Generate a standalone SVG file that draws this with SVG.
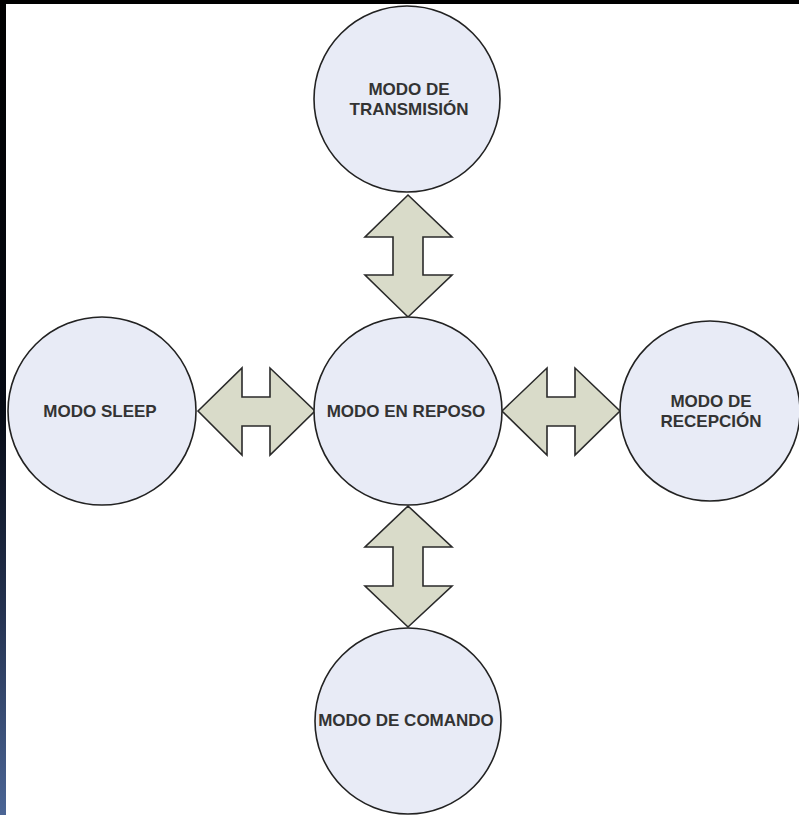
<svg xmlns="http://www.w3.org/2000/svg" width="799" height="815" viewBox="0 0 799 815">
<defs>
<linearGradient id="bar" x1="0" y1="0" x2="0" y2="1">
<stop offset="0" stop-color="#000000"/>
<stop offset="0.5" stop-color="#060a14"/>
<stop offset="0.75" stop-color="#243250"/>
<stop offset="1" stop-color="#4b6595"/>
</linearGradient>
</defs>
<style>
.node{fill:#e8ebf6;stroke:#222;stroke-width:1.6}
.arrow{fill:#d9dbc9;stroke:#2a2a2a;stroke-width:1.6;stroke-linejoin:miter}
.lbl{font-family:"Liberation Sans",Arial,sans-serif;font-weight:bold;font-size:17px;fill:#333;text-anchor:middle}
</style>
<rect x="0" y="0" width="799" height="815" fill="#ffffff"/>
<g id="connectors">
<path class="arrow" d="M408,195 L452,237 L423,237 L423,275 L452,275 L408,317 L365,275 L393,275 L393,237 L365,237 Z"/>
<path class="arrow" d="M408,506 L452,547 L423,547 L423,586 L452,586 L408,627 L365,586 L393,586 L393,547 L365,547 Z"/>
<path class="arrow" d="M198,411 L242,368 L242,397 L270,397 L270,368 L315,411 L270,455 L270,426 L242,426 L242,455 Z"/>
<path class="arrow" d="M502,411 L547,368 L547,397 L575,397 L575,368 L620,411 L575,455 L575,426 L547,426 L547,455 Z"/>
</g>
<g id="node-transmision">
<circle class="node" cx="407" cy="99" r="93"/>
<text class="lbl" x="409" y="95">MODO DE</text>
<text class="lbl" x="409" y="115">TRANSMISIÓN</text>
</g>
<g id="node-reposo">
<circle class="node" cx="408" cy="411" r="94"/>
<text class="lbl" x="406" y="417">MODO EN REPOSO</text>
</g>
<g id="node-sleep">
<circle class="node" cx="102" cy="411" r="94"/>
<text class="lbl" x="100" y="417">MODO SLEEP</text>
</g>
<g id="node-recepcion">
<circle class="node" cx="710" cy="411" r="90"/>
<text class="lbl" x="711" y="407">MODO DE</text>
<text class="lbl" x="711" y="427">RECEPCIÓN</text>
</g>
<g id="node-comando">
<circle class="node" cx="408" cy="721" r="93"/>
<text class="lbl" x="406" y="726">MODO DE COMANDO</text>
</g>
<rect x="0" y="0" width="799" height="4" fill="#000"/>
<rect x="0" y="0" width="6" height="815" fill="url(#bar)"/>
</svg>
